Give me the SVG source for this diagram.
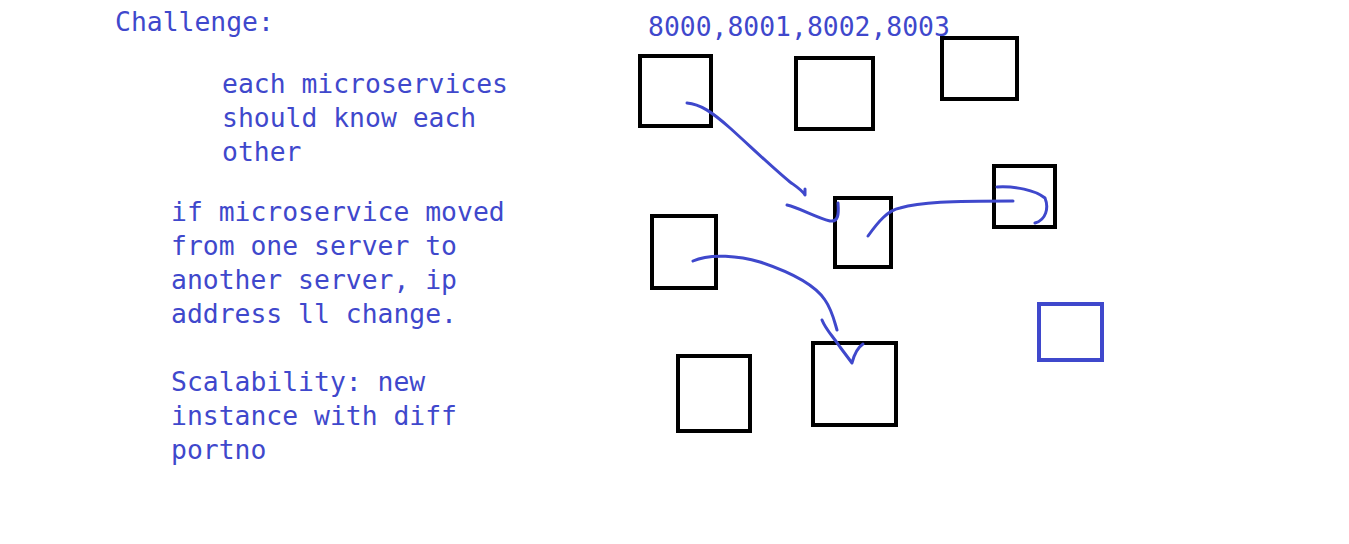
<svg xmlns="http://www.w3.org/2000/svg" width="1349" height="544" viewBox="0 0 1349 544">
<style>
.t{font-family:"DejaVu Sans Mono","Liberation Mono",monospace;font-size:26.4px;fill:#3f48cc}
.b{fill:none;stroke:#000;stroke-width:4}
.bb{fill:none;stroke:#3f48cc;stroke-width:4}
.c{fill:none;stroke:#3f48cc;stroke-width:3;stroke-linecap:round;stroke-linejoin:round}
</style>
<rect width="1349" height="544" fill="#fff"/>
<g id="text">
<text class="t" x="115" y="31">Challenge:</text>
<text class="t" x="222" y="93">each microservices</text>
<text class="t" x="222" y="127">should know each</text>
<text class="t" x="222" y="161">other</text>
<text class="t" x="171" y="221">if microservice moved</text>
<text class="t" x="171" y="255">from one server to</text>
<text class="t" x="171" y="289">another server, ip</text>
<text class="t" x="171" y="323">address ll change.</text>
<text class="t" x="171" y="391">Scalability: new</text>
<text class="t" x="171" y="425">instance with diff</text>
<text class="t" x="171" y="459">portno</text>
<text class="t" x="648" y="36">8000,8001,8002,8003</text>
</g>
<g id="node1"><rect class="b" x="640" y="56" width="71" height="70"/></g>
<g id="node2"><rect class="b" x="796" y="58" width="77" height="71"/></g>
<g id="node3"><rect class="b" x="942" y="38" width="75" height="61"/></g>
<g id="node4"><rect class="b" x="835" y="198" width="56" height="69"/></g>
<g id="node5"><rect class="b" x="994" y="166" width="61" height="61"/></g>
<g id="node6"><rect class="b" x="652" y="216" width="64" height="72"/></g>
<g id="node7"><rect class="b" x="678" y="356" width="72" height="75"/></g>
<g id="node8"><rect class="b" x="813" y="343" width="83" height="82"/></g>
<g id="node9"><rect class="bb" x="1039" y="304" width="63" height="56"/></g>
<g id="connectors">
<path class="c" d="M687,103 C700,104 712,112 730,128 C750,146 775,170 790,182 C797,187 802,190 805,195 L805,189"/>
<path class="c" d="M787,205 C800,208 815,217 830,221 C838,222 839,215 838,203"/>
<path class="c" d="M868,236 C878,222 888,210 900,208 C920,202 950,201 1013,201"/>
<path class="c" d="M997,187 C1015,186 1035,190 1045,198 C1049,208 1046,220 1035,223"/>
<path class="c" d="M693,261 C710,253 740,256 760,262 C790,272 815,285 825,300 C832,310 834,320 837,330"/>
<path class="c" d="M822,320 C826,330 832,335 840,347 L852,363 C854,355 857,348 863,344"/>
</g>
</svg>
